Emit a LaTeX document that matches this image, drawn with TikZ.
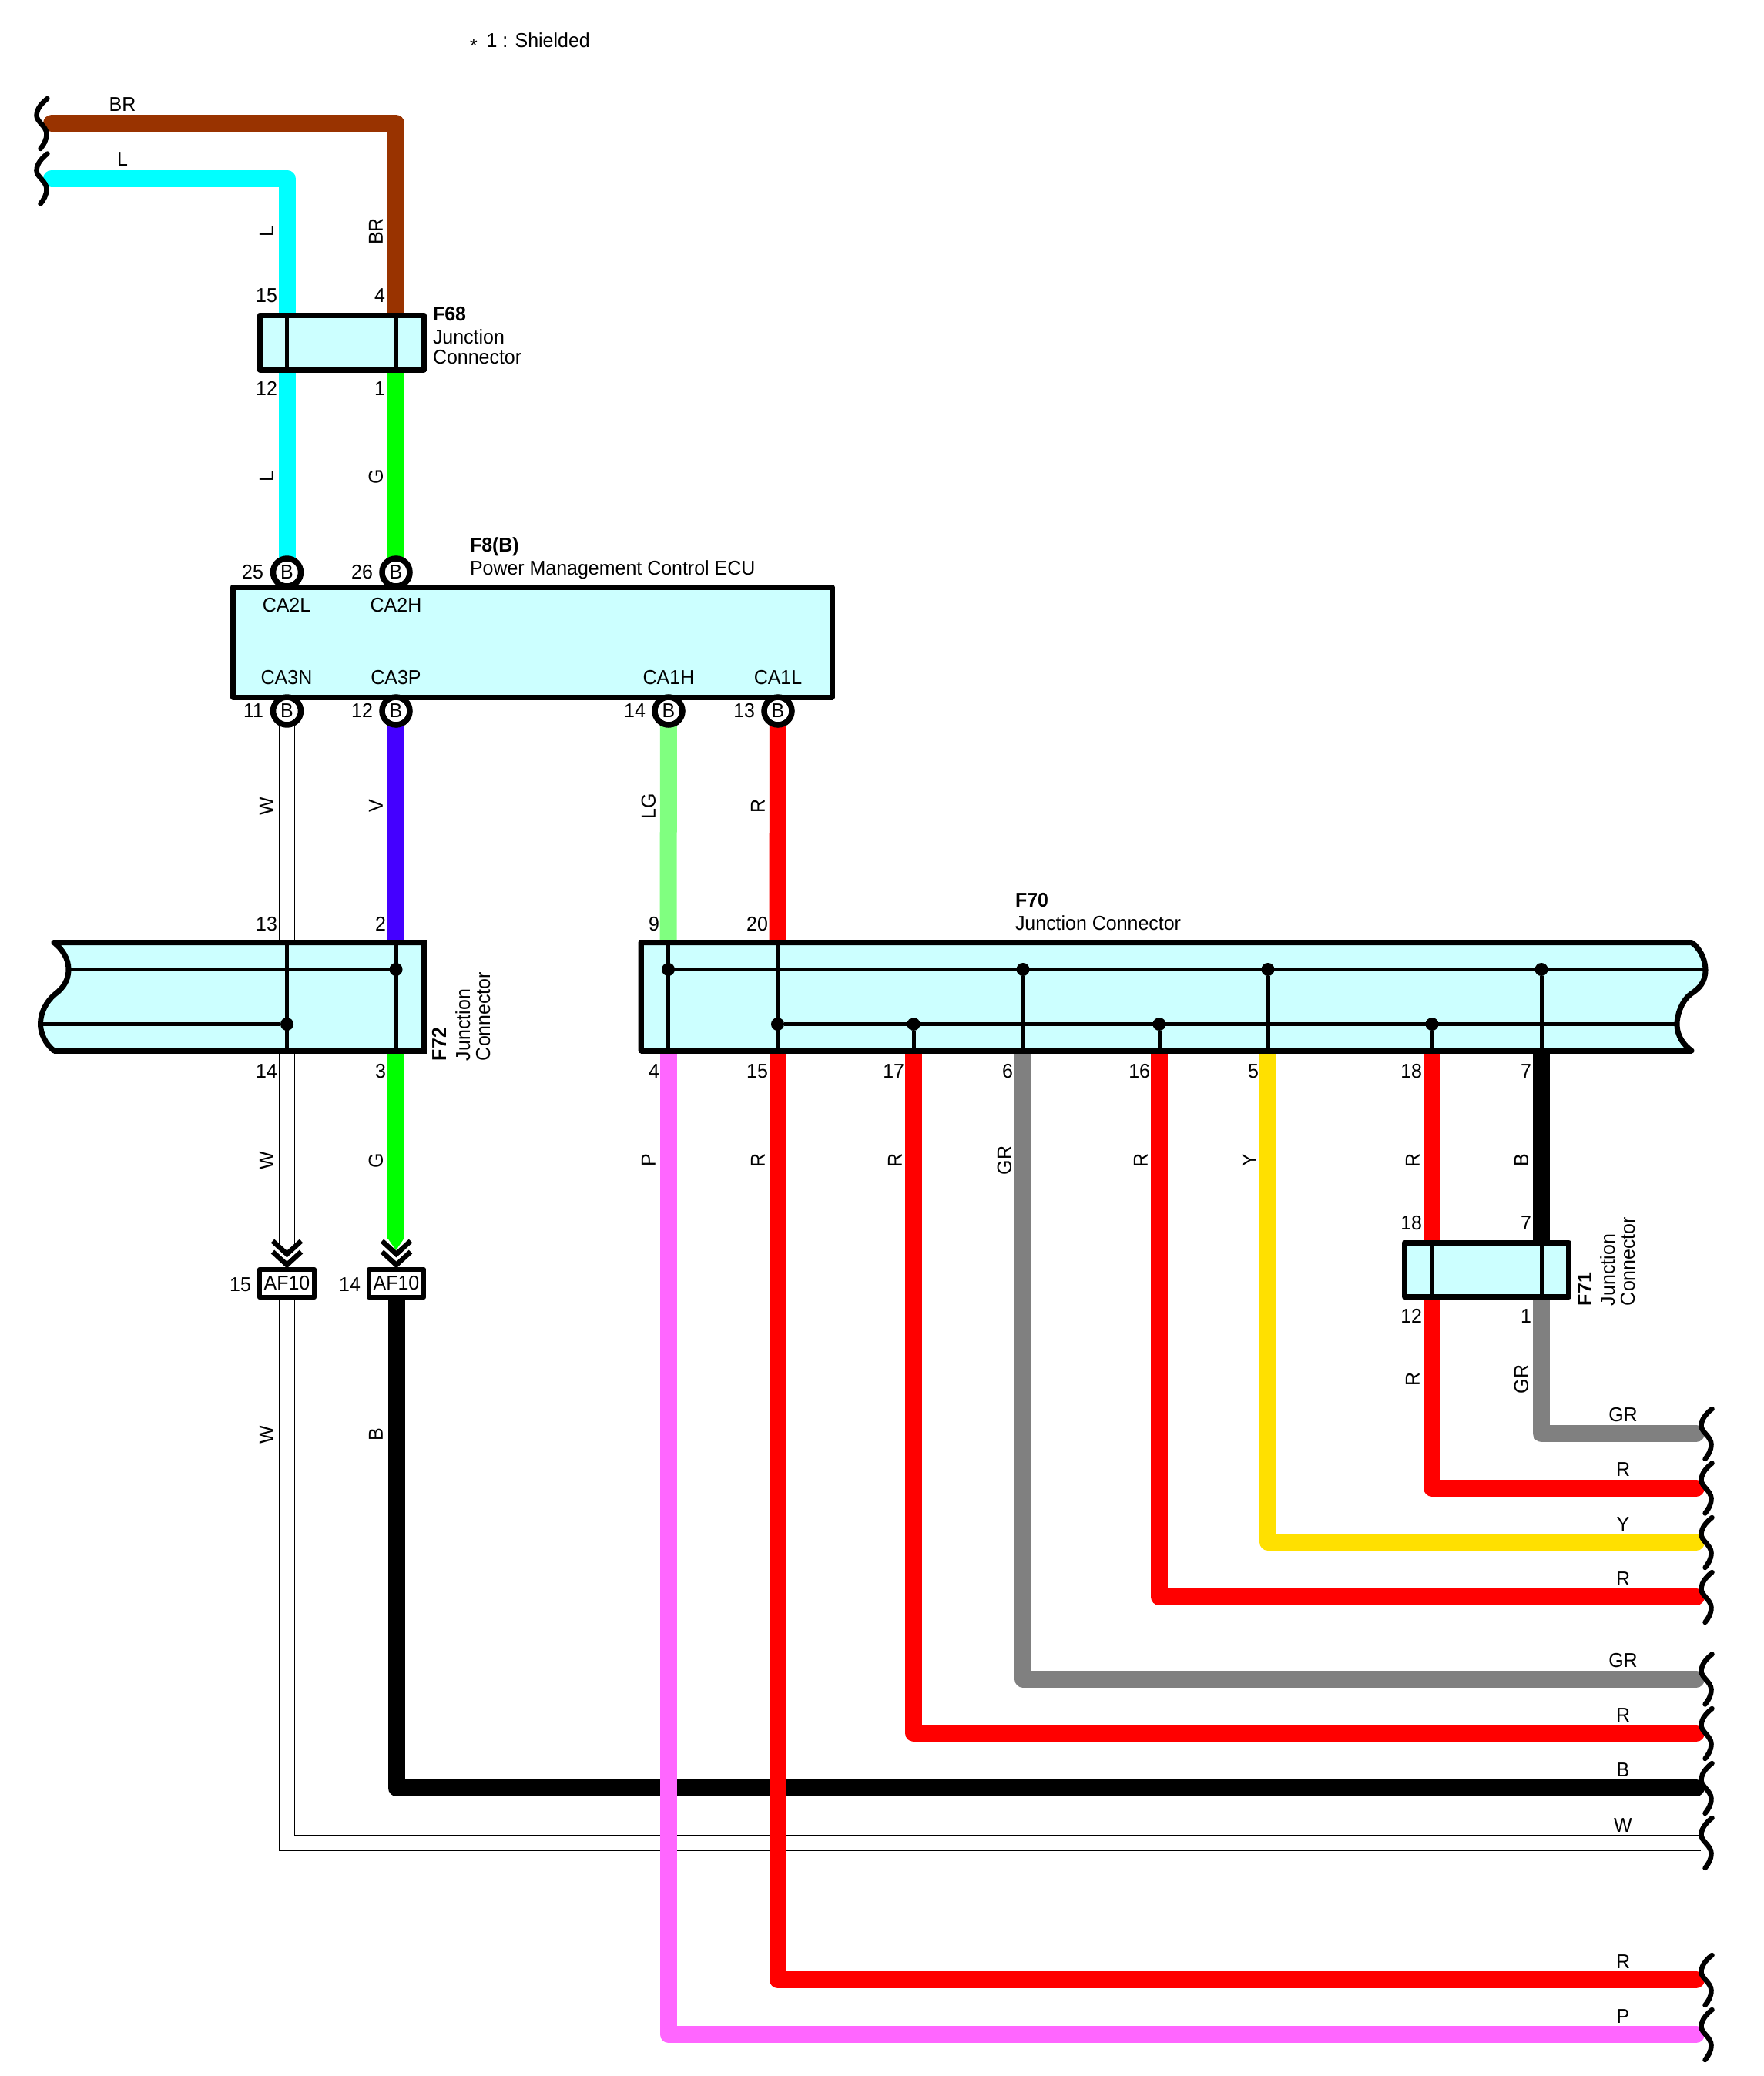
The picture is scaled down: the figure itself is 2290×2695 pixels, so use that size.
\documentclass[tikz,border=0pt]{standalone}
\usepackage{fontspec}
\setmainfont{Liberation Sans}[FakeStretch=0.96]
\pgfdeclarelayer{wires}
\pgfsetlayers{wires,main}
\definecolor{cBoxFill}{HTML}{CCFFFF}
\definecolor{cBR}{HTML}{993300}
\definecolor{cL}{HTML}{00FFFF}
\definecolor{cG}{HTML}{00FF00}
\definecolor{cV}{HTML}{4400FF}
\definecolor{cLG}{HTML}{80FF80}
\definecolor{cR}{HTML}{FF0000}
\definecolor{cP}{HTML}{FF66FF}
\definecolor{cGR}{HTML}{808080}
\definecolor{cY}{HTML}{FFE000}
\tikzset{
  txt/.style={inner sep=0pt,outer sep=0pt,font=\fontsize{26}{30}\selectfont},
  num/.style={txt,anchor=east,yshift=-0.5pt},
  lab/.style={txt,anchor=center,yshift=-0.5pt},
  rot/.style={txt,anchor=center,rotate=90,xshift=1.5pt,yshift=2pt},
  lft/.style={txt,anchor=base west},
  rotl/.style={txt,anchor=base west,rotate=90},
  wire/.style={line width=22pt,line cap=round,line join=round},
  butt/.style={line width=22pt,line cap=butt},
  wwire/.style={line width=1.3pt,double=white,double distance=18.8pt,line cap=butt,line join=miter},
  conn/.style={draw=black,fill=cBoxFill,line width=7pt,line join=round,rectangle,inner sep=0pt,outer sep=0pt},
  shell/.style={draw=black,fill=cBoxFill,line width=7pt,line join=round},
  term/.style={draw=black,fill=white,line width=7.5pt,circle,minimum size=36pt,inner sep=0pt,outer sep=0pt,font=\fontsize{26}{30}\selectfont},
  plug/.style={draw=black,fill=white,line width=6.5pt,line join=round,rectangle,minimum width=71pt,minimum height=36pt,inner sep=0pt,outer sep=0pt,font=\fontsize{26}{30}\selectfont},
  bus/.style={line width=5pt,draw=black},
  dotj/.style={circle,fill=black,minimum size=17pt,inner sep=0pt,outer sep=0pt},
  chev/.style={line width=6.5pt,draw=black,line join=miter},
  squig/.pic={\draw[line width=6.5pt,line cap=round,draw=black] (8,-32) .. controls (3,-28) and (-6,-20) .. (-6,-10) .. controls (-6,-2) and (7,4) .. (7,14) .. controls (7,22) and (3,28) .. (-1,33);}
}
\begin{document}
\begin{tikzpicture}[x=1pt,y=-1pt]
\useasboundingbox (0,0) rectangle (2290,2695);

% ---------- connector bodies with broken ends
\path[shell] (70,1223.5) .. controls (81,1232) and (89,1245) .. (89,1258) .. controls (89,1272) and (83,1282) .. (71,1291) .. controls (60,1300) and (52.5,1315) .. (52.5,1329) .. controls (52.5,1342) and (59,1355) .. (70,1364) -- (550,1364) -- (550,1223.5) -- cycle;
\path[shell] (832,1223.5) -- (2196,1223.5) .. controls (2206,1230) and (2214,1245) .. (2214,1259) .. controls (2214,1275) and (2206,1283) .. (2195.5,1290) .. controls (2185,1297) and (2177,1315) .. (2177,1330) .. controls (2177,1345) and (2186,1357) .. (2196,1364) -- (832,1364) -- cycle;

% ---------- connector boxes
\node[conn,minimum width=213pt,minimum height=71pt] (F68) at (443.5,444.5) {};
\node[conn,minimum width=213pt,minimum height=70.5pt] (F71) at (1930,1648.25) {};
\node[conn,minimum width=778pt,minimum height=143pt] (F8) at (691,833.5) {};

% ---------- terminals
\node[term] (p25) at (372.5,743) {B};
\node[term] (p26) at (514,743) {B};
\node[term] (p11) at (372.5,923) {B};
\node[term] (p12) at (514,923) {B};
\node[term] (p14) at (868,923) {B};
\node[term] (p13) at (1010,923) {B};
\node[plug] (af15) at (372.5,1666) {AF10};
\node[plug] (af14) at (514.5,1666) {AF10};

% ---------- pin points on connectors
\coordinate (t15) at (372.5,409);  \coordinate (b12) at (372.5,480);
\coordinate (t4)  at (514,409);    \coordinate (b1)  at (514,480);
\coordinate (t13) at (372.5,1223.5); \coordinate (b14) at (372.5,1364);
\coordinate (t2)  at (514,1223.5);   \coordinate (b3)  at (514,1364);
\coordinate (t9)  at (867.5,1223.5);   \coordinate (b4)  at (867.5,1364);
\coordinate (t20) at (1009.5,1223.5);  \coordinate (b15) at (1009.5,1364);
\coordinate (b17) at (1186,1364);  \coordinate (b6)  at (1328,1364);
\coordinate (b16) at (1505,1364);  \coordinate (b5)  at (1646,1364);
\coordinate (b18) at (1859,1364);  \coordinate (b7)  at (2001,1364);
\coordinate (u18) at (1859,1613);  \coordinate (u7)  at (2001,1613);
\coordinate (l12) at (1859,1683.5);\coordinate (l1)  at (2001,1683.5);

% ---------- free ends
\coordinate (eBR) at (67,160);   \coordinate (eL) at (67,231.5);
\coordinate (eGR1) at (2202,1861); \coordinate (eR1) at (2202,1931.5);
\coordinate (eY) at (2202,2002);   \coordinate (eR2) at (2202,2073);
\coordinate (eGR2) at (2202,2179.5); \coordinate (eR3) at (2202,2250);
\coordinate (eB) at (2202,2321);   \coordinate (eW) at (2208,2392.3);
\coordinate (eR4) at (2202,2570);  \coordinate (eP) at (2202,2641);
\coordinate (cw1) at (372.5,1617); \coordinate (cg1) at (514,1608);

% ---------- wires
\begin{pgfonlayer}{wires}
\draw[wwire] (p11) -- (t13);
\draw[wwire] (b14) -- (cw1);
\draw[wwire] (af15) |- (eW);
\draw[wire,black] (af14) |- (eB);
\draw[wire,cBR] (eBR) -| (t4);
\draw[wire,cL] (eL) -| (t15);
\draw[wire,cL] (b12) -- (p25);
\draw[wire,cG] (b1) -- (p26);
\draw[wire,cV] (p12) -- (t2);
\draw[wire,cLG] (p14) -- (t9);
\draw[wire,cR] (p13) -- (t20);
\draw[butt,cG] (b3) -- (cg1);
\fill[cG] (503,1607) -- (525,1607) -- (514,1623) -- cycle;
\draw[wire,cR] (b17) |- (eR3);
\draw[wire,cGR] (b6) |- (eGR2);
\draw[wire,cR] (b16) |- (eR2);
\draw[wire,cY] (b5) |- (eY);
\draw[wire,cR] (b18) -- (u18);
\draw[wire,black] (b7) -- (u7);
\draw[wire,cR] (l12) |- (eR1);
\draw[wire,cGR] (l1) |- (eGR1);
\draw[wire,cP] (b4) |- (eP);
\draw[wire,cR] (b15) |- (eR4);
\end{pgfonlayer}

% ---------- inner lines of F68 / F71
\draw[bus] (t15) -- (b12);
\draw[bus] (t4) -- (b1);
\draw[bus] (u18) -- (l12);
\draw[bus] (u7) -- (l1);

% ---------- F72 internals
\node[dotj] (d72a) at (514,1258.5) {};
\node[dotj] (d72b) at (372.5,1329.5) {};
\coordinate (f72La) at (89,1258.5);
\coordinate (f72Lb) at (54,1329.5);
\draw[bus] (t13) -- (b14);
\draw[bus] (t2) -- (b3);
\draw[bus] (f72La) -- (d72a);
\draw[bus] (f72Lb) -- (d72b);

% ---------- F70 internals
\node[dotj] (da1) at (867.5,1258.5) {};
\node[dotj] (da2) at (1328,1258.5) {};
\node[dotj] (da3) at (1646,1258.5) {};
\node[dotj] (da4) at (2001,1258.5) {};
\node[dotj] (db1) at (1009.5,1329.5) {};
\node[dotj] (db2) at (1186,1329.5) {};
\node[dotj] (db3) at (1505,1329.5) {};
\node[dotj] (db4) at (1859,1329.5) {};
\coordinate (f70Ra) at (2213,1258.5);
\coordinate (f70Rb) at (2178,1329.5);
\draw[bus] (da1) -- (f70Ra);
\draw[bus] (db1) -- (f70Rb);
\draw[bus] (t9) -- (b4);
\draw[bus] (t20) -- (b15);
\draw[bus] (db2) -- (b17);
\draw[bus] (da2) -- (b6);
\draw[bus] (db3) -- (b16);
\draw[bus] (da3) -- (b5);
\draw[bus] (db4) -- (b18);
\draw[bus] (da4) -- (b7);

% ---------- redraw box outlines over the internal lines
\draw[line width=7pt,draw=black,line join=miter] (70,1223.5) -- (550,1223.5) -- (550,1364) -- (70,1364);
\draw[line width=7pt,draw=black,line join=miter] (832,1364) -- (832,1223.5) -- (2196,1223.5);
\draw[line width=7pt,draw=black] (832,1364) -- (2196,1364);

% ---------- plug chevrons
\draw[chev] (354,1611) -- (372.5,1628) -- (391,1611);
\draw[chev] (354,1625) -- (372.5,1642) -- (391,1625);
\draw[chev] (496,1611) -- (514.5,1628) -- (533,1611);
\draw[chev] (496,1625) -- (514.5,1642) -- (533,1625);

% ---------- broken-end marks
\pic at (53.5,160) {squig};
\pic at (53.5,231.5) {squig};
\pic at (2214.5,1861) {squig};
\pic at (2214.5,1931.5) {squig};
\pic at (2214.5,2002) {squig};
\pic at (2214.5,2073) {squig};
\pic at (2214.5,2179.5) {squig};
\pic at (2214.5,2250) {squig};
\pic at (2214.5,2321) {squig};
\pic at (2214.5,2392) {squig};
\pic at (2214.5,2570) {squig};
\pic at (2214.5,2641) {squig};

% ---------- free text
\node[lft] (note) at (610,62) {\raisebox{-7pt}{*}\hspace{5pt} 1 : Shielded};
\node[lft] (f68a) at (562,416) {\textbf{F68}};
\node[lft] (f68b) at (562,446) {Junction};
\node[lft] (f68c) at (562,472) {Connector};
\node[lft] (f8a) at (610,716) {\textbf{F8(B)}};
\node[lft] (f8b) at (610,746) {Power Management Control ECU};
\node[lft] (f70a) at (1318,1177) {\textbf{F70}};
\node[lft] (f70b) at (1318,1207) {Junction Connector};
\node[rotl] (f72a) at (579,1377) {\textbf{F72}};
\node[rotl] (f72b) at (610,1377) {Junction};
\node[rotl] (f72c) at (636,1377) {Connector};
\node[rotl] (f71a) at (2066,1695) {\textbf{F71}};
\node[rotl] (f71b) at (2096,1695) {Junction};
\node[rotl] (f71c) at (2122,1695) {Connector};

% ---------- ECU pin names
\node[lab] (s1) at (372,785) {CA2L};
\node[lab] (s2) at (514,785) {CA2H};
\node[lab] (s3) at (372,879) {CA3N};
\node[lab] (s4) at (514,879) {CA3P};
\node[lab] (s5) at (868,879) {CA1H};
\node[lab] (s6) at (1010,879) {CA1L};

% ---------- pin numbers
\node[num] (n1) at (360,383) {15};
\node[num] (n2) at (500,383) {4};
\node[num] (n3) at (360,504) {12};
\node[num] (n4) at (500,504) {1};
\node[num] (n5) at (342,742) {25};
\node[num] (n6) at (484,742) {26};
\node[num] (n7) at (342,922) {11};
\node[num] (n8) at (484,922) {12};
\node[num] (n9) at (838,922) {14};
\node[num] (n10) at (980,922) {13};
\node[num] (n11) at (360,1199) {13};
\node[num] (n12) at (501,1199) {2};
\node[num] (n13) at (856,1199) {9};
\node[num] (n14) at (997,1199) {20};
\node[num] (n15) at (360,1390) {14};
\node[num] (n16) at (501,1390) {3};
\node[num] (n17) at (856,1390) {4};
\node[num] (n18) at (997,1390) {15};
\node[num] (n19) at (1174,1390) {17};
\node[num] (n20) at (1315,1390) {6};
\node[num] (n21) at (1493,1390) {16};
\node[num] (n22) at (1634,1390) {5};
\node[num] (n23) at (1846,1390) {18};
\node[num] (n24) at (1988,1390) {7};
\node[num] (n25) at (1846,1587) {18};
\node[num] (n26) at (1988,1587) {7};
\node[num] (n27) at (1846,1708) {12};
\node[num] (n28) at (1988,1708) {1};
\node[num] (n29) at (326,1667) {15};
\node[num] (n30) at (468,1667) {14};

% ---------- wire colour labels, vertical
\node[rot] (v1) at (348,302) {L};
\node[rot] (v2) at (490,302) {BR};
\node[rot] (v3) at (348,620) {L};
\node[rot] (v4) at (490,620) {G};
\node[rot] (v5) at (348,1048) {W};
\node[rot] (v6) at (490,1048) {V};
\node[rot] (v7) at (844,1048) {LG};
\node[rot] (v8) at (986,1048) {R};
\node[rot] (v9) at (348,1508) {W};
\node[rot] (v10) at (490,1508) {G};
\node[rot] (v11) at (844,1508) {P};
\node[rot] (v12) at (986,1508) {R};
\node[rot] (v13) at (1164,1508) {R};
\node[rot] (v14) at (1306,1508) {GR};
\node[rot] (v15) at (1483,1508) {R};
\node[rot] (v16) at (1624,1508) {Y};
\node[rot] (v17) at (1836,1508) {R};
\node[rot] (v18) at (1977,1508) {B};
\node[rot] (v19) at (1836,1792) {R};
\node[rot] (v20) at (1977,1792) {GR};
\node[rot] (v21) at (348,1864) {W};
\node[rot] (v22) at (490,1864) {B};

% ---------- wire colour labels, horizontal
\node[lab] (h1) at (159,135) {BR};
\node[lab] (h2) at (159,206) {L};
\node[lab] (h3) at (2107,1836) {GR};
\node[lab] (h4) at (2107,1907) {R};
\node[lab] (h5) at (2107,1978) {Y};
\node[lab] (h6) at (2107,2049) {R};
\node[lab] (h7) at (2107,2155) {GR};
\node[lab] (h8) at (2107,2226) {R};
\node[lab] (h9) at (2107,2297) {B};
\node[lab] (h10) at (2107,2369) {W};
\node[lab] (h11) at (2107,2546) {R};
\node[lab] (h12) at (2107,2617) {P};
\end{tikzpicture}
\end{document}
